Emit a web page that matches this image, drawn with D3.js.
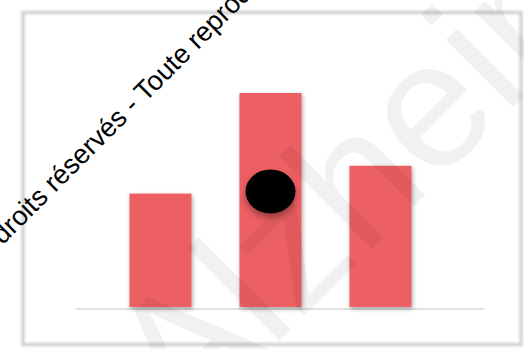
<!DOCTYPE html>
<html>
<head>
<meta charset="utf-8">
<script src="https://cdn.jsdelivr.net/npm/d3@7"></script>
<style>
  html, body { margin: 0; padding: 0; background: #fff; }
  svg { display: block; }
</style>
</head>
<body>
<script>
// Chart data
const categories = ["A", "B", "C"];
const barValues = [53, 100, 66];
const pointCategories = ["B"];
const pointValues = [54];

const width = 524, height = 349;

const svg = d3.select("body").append("svg")
  .attr("width", width)
  .attr("height", height);

const defs = svg.append("defs");

// soft edge for the outer frame
defs.append("filter").attr("id", "soft")
  .attr("x", "-5%").attr("y", "-5%").attr("width", "110%").attr("height", "110%")
  .append("feGaussianBlur").attr("stdDeviation", 1);

// drop shadow under the bars
const barShadow = defs.append("filter").attr("id", "barShadow")
  .attr("x", "-20%").attr("y", "-20%").attr("width", "150%").attr("height", "150%");
barShadow.append("feDropShadow")
  .attr("dx", 1).attr("dy", 2).attr("stdDeviation", 2)
  .attr("flood-color", "#000").attr("flood-opacity", 0.35);

// drop shadow under the point marker
const dotShadow = defs.append("filter").attr("id", "dotShadow")
  .attr("x", "-50%").attr("y", "-50%").attr("width", "200%").attr("height", "200%");
dotShadow.append("feDropShadow")
  .attr("dx", 0).attr("dy", 4).attr("stdDeviation", 3)
  .attr("flood-color", "#000").attr("flood-opacity", 0.35);

// outer frame
svg.append("rect")
  .attr("x", 23).attr("y", 12.5)
  .attr("width", 498).attr("height", 332)
  .attr("fill", "none")
  .attr("stroke", "#d2d2d2")
  .attr("stroke-width", 3.5)
  .attr("filter", "url(#soft)");

// scales
const x = d3.scaleBand()
  .domain(categories)
  .range([81.5, 459.5])
  .paddingInner(0.436)
  .paddingOuter(0.436);

const y = d3.scaleLinear()
  .domain([0, 100])
  .range([307, 93]);

// baseline
svg.append("line")
  .attr("x1", 76).attr("x2", 484)
  .attr("y1", y(0) + 2).attr("y2", y(0) + 2)
  .attr("stroke", "#e2e2e2")
  .attr("stroke-width", 2);

// bars
svg.append("g").selectAll("rect")
  .data(barValues)
  .join("rect")
  .attr("x", (d, i) => x(categories[i]))
  .attr("width", x.bandwidth())
  .attr("y", d => y(d))
  .attr("height", d => y(0) - y(d))
  .attr("fill", "#ec5f64")
  .attr("filter", "url(#barShadow)");

// point marker
svg.append("g").selectAll("ellipse")
  .data(pointValues)
  .join("ellipse")
  .attr("cx", (d, i) => x(pointCategories[i]) + x.bandwidth() / 2)
  .attr("cy", d => y(d))
  .attr("rx", 25)
  .attr("ry", 22)
  .attr("fill", "#000")
  .attr("filter", "url(#dotShadow)");

// large faint watermark
svg.append("text")
  .attr("transform", "translate(186,434) rotate(-45)")
  .attr("font-family", "Liberation Sans, Arial, sans-serif")
  .attr("font-size", 180)
  .attr("fill", "#000")
  .attr("fill-opacity", 0.055)
  .text("Alzheimer");

// rights notice
svg.append("text")
  .attr("transform", "translate(-43.4,291.4) rotate(-45)")
  .attr("font-family", "Liberation Sans, Arial, sans-serif")
  .attr("font-size", 27.2)
  .attr("fill", "#000")
  .text("Tous droits réservés - Toute reproduction interdite");
</script>
</body>
</html>
